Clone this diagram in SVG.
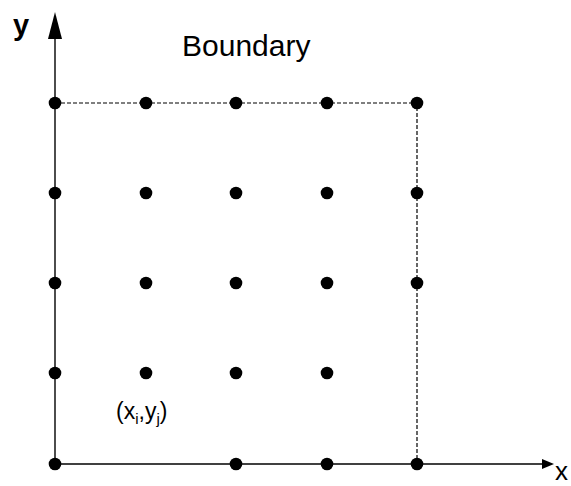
<svg xmlns="http://www.w3.org/2000/svg" width="571" height="486" viewBox="0 0 571 486">
<style>
.dot{fill:#000}
.axis{stroke:#000;stroke-width:1.4;fill:none}
.dash{stroke:#000;stroke-width:1.2;stroke-dasharray:4,2;fill:none}
text{font-family:"Liberation Sans",Arial,sans-serif;fill:#000}
</style>
<rect width="571" height="486" fill="#fff"/>
<g id="connectors">
<path class="dash" d="M55,103H417V464"/>
<path class="axis" d="M55,464V38"/>
<path class="axis" d="M55,464H543"/>
<polygon points="55,12 48,39 62,39" fill="#000"/>
<polygon points="554,464 542,459 542,469" fill="#000"/>
</g>
<g id="labels">
<text x="555" y="480" font-size="26">x</text>
<text x="13" y="35" font-size="29" font-weight="bold">y</text>
<text x="182" y="56" font-size="30">Boundary</text>
<text x="116" y="419" font-size="23">(x<tspan font-size="15" dy="5">i</tspan><tspan dy="-5">,y</tspan><tspan font-size="15" dy="5">j</tspan><tspan dy="-5">)</tspan></text>
</g>
<g id="nodes">
<g id="r1"><circle class="dot" cx="55" cy="103" r="6.3"/><circle class="dot" cx="146" cy="103" r="6.3"/><circle class="dot" cx="236" cy="103" r="6.3"/><circle class="dot" cx="327" cy="103" r="6.3"/><circle class="dot" cx="417" cy="103" r="6.3"/></g>
<g id="r2"><circle class="dot" cx="55" cy="193" r="6.3"/><circle class="dot" cx="146" cy="193" r="6.3"/><circle class="dot" cx="236" cy="193" r="6.3"/><circle class="dot" cx="327" cy="193" r="6.3"/><circle class="dot" cx="417" cy="193" r="6.3"/></g>
<g id="r3"><circle class="dot" cx="55" cy="283" r="6.3"/><circle class="dot" cx="146" cy="283" r="6.3"/><circle class="dot" cx="236" cy="283" r="6.3"/><circle class="dot" cx="327" cy="283" r="6.3"/><circle class="dot" cx="417" cy="283" r="6.3"/></g>
<g id="r4"><circle class="dot" cx="55" cy="373" r="6.3"/><circle class="dot" cx="146" cy="373" r="6.3"/><circle class="dot" cx="236" cy="373" r="6.3"/><circle class="dot" cx="327" cy="373" r="6.3"/></g>
<g id="r5"><circle class="dot" cx="55" cy="464" r="6.3"/><circle class="dot" cx="236" cy="464" r="6.3"/><circle class="dot" cx="327" cy="464" r="6.3"/><circle class="dot" cx="417" cy="464" r="6.3"/></g>
</g>
</svg>
